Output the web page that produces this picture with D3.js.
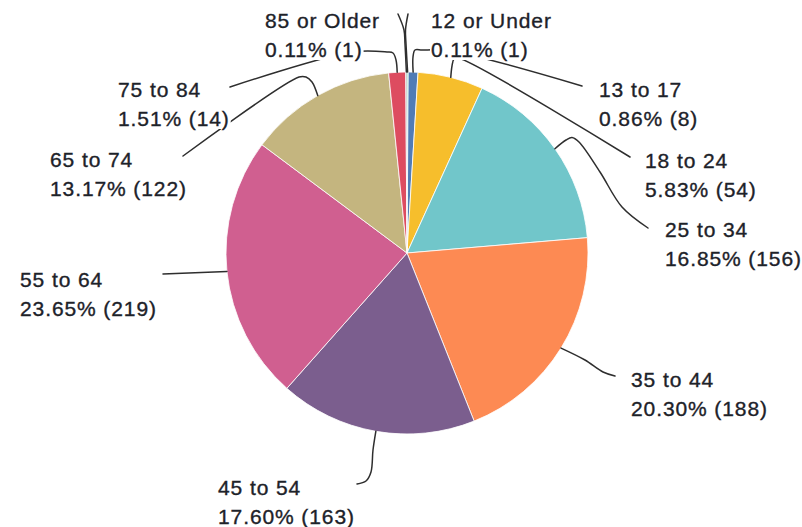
<!DOCTYPE html>
<html>
<head>
<meta charset="utf-8">
<script src="https://cdn.jsdelivr.net/npm/d3@7"></script>
<style>
  html, body { margin:0; padding:0; background:#fff; }
  svg { display:block; }
  .lbl { font-family:"Liberation Sans", Arial, sans-serif; font-size:21px; letter-spacing:0.9px;
         fill:#1d2229; stroke:#1d2229; stroke-width:0.35px; }
  .leader { fill:none; stroke:#2e2e2e; stroke-width:1.5px; stroke-linecap:round; }
</style>
</head>
<body>
<script>
/////////////////////////////////////////////////////////////////////
// Age group pie chart
/////////////////////////////////////////////////////////////////////

// data (clockwise from 12 o'clock)
var categories=["12 or Under","13 to 17","18 to 24","25 to 34","35 to 44",
                "45 to 54","55 to 64","65 to 74","75 to 84","85 or Older"];
var counts=[1,8,54,156,188,163,219,122,14,1];
var palette=["#00bf6f","#507cb6","#f6be2c","#71c6ca","#fd8a53",
             "#7b5e8e","#d05f90","#c4b57f","#dd4c60","#9b9b9b"];

// layout: label anchor (left x, first baseline) and leader bend points
var labelPos=[[431,28],[599,97],[645,168],[665,237],[631,387],
              [218,495],[20,287],[50,167],[118,97],[265,28]];
var leaderPts=[
   [[406,44],[405.5,30],[408,14]],
   [[413,57],[415,50],[422,50],[450,51],[582,86]],
   [[452,66],[454,59],[458,58],[630,157]],
   [[566,140],[572,137.5],[579,142],[600,172],[622,207],[648,228]],
   [[585,360],[603,372],[615,376]],
   [[373,450],[371,472],[366,481],[357,484]],
   [[163,274]],
   [[312,82],[306,77],[299,77],[183,156]],
   [[396,60],[393,53],[387,52],[352,52],[230,87]],
   [[405,44],[404,30],[398,14]]
];

var width=802, height=527, cx=407, cy=253, radius=181, lineGap=29;
var total=d3.sum(counts);

var svg=d3.select("body").append("svg")
          .attr("width",width).attr("height",height);

var color=d3.scaleOrdinal().domain(categories).range(palette);

var pie=d3.pie().sort(null).value(function(d){return d;});
var arcs=pie(counts);
var arc=d3.arc().innerRadius(0).outerRadius(radius);

// slices
svg.append("g").attr("transform","translate("+cx+","+cy+")")
   .selectAll("path").data(arcs).enter().append("path")
   .attr("d",arc)
   .attr("fill",function(d,i){return color(categories[i]);})
   .attr("stroke","#fff").attr("stroke-width",0.8);

// leader lines start at the middle of each slice's outer edge
var line=d3.line().curve(d3.curveCatmullRom.alpha(0.5));
svg.append("g").selectAll("path").data(arcs).enter().append("path")
   .attr("class","leader")
   .attr("d",function(d,i){
      var a=(d.startAngle+d.endAngle)/2;
      var p0=[cx+radius*Math.sin(a), cy-radius*Math.cos(a)];
      return line([p0].concat(leaderPts[i]));
   });

// labels (white box behind each line of text hides leaders passing under it)
var labG=svg.append("g");
arcs.forEach(function(d,i){
   var g=labG.append("g");
   var rows=[categories[i], (d.value/total*100).toFixed(2)+"% ("+d.value+")"];
   rows.forEach(function(txt,k){
      var bg=g.append("rect").attr("fill","#fff");
      var t=g.append("text").attr("class","lbl")
             .attr("x",labelPos[i][0]).attr("y",labelPos[i][1]+k*lineGap)
             .text(txt);
      var b=t.node().getBBox();
      bg.attr("x",b.x-1).attr("y",b.y+2).attr("width",b.width+2).attr("height",b.height-3);
   });
});
</script>
</body>
</html>
